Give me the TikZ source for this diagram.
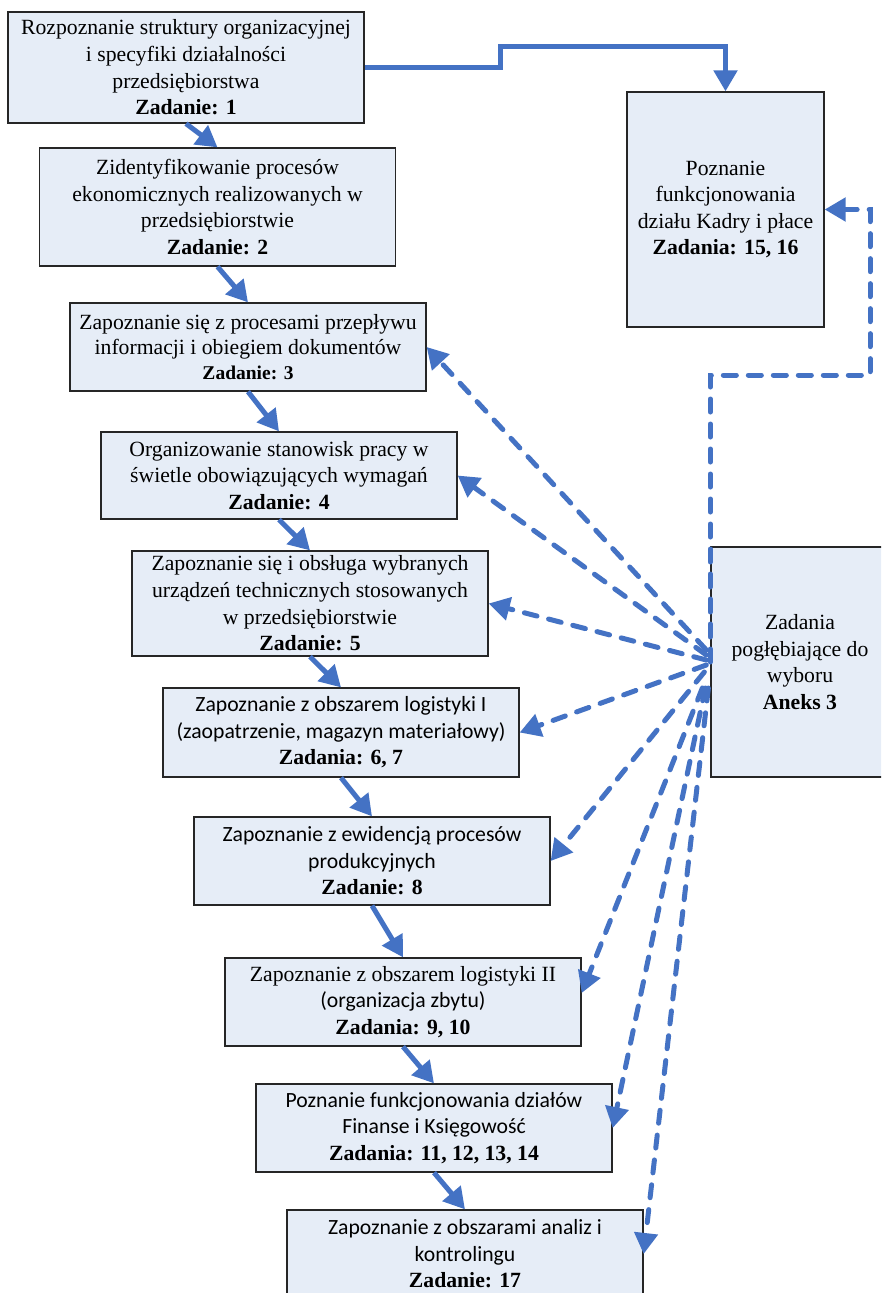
\documentclass[tikz,border=0pt]{standalone}
\usepackage{fontspec}
\setmainfont{Liberation Serif}
\newfontfamily\sanscal{Carlito}
\usetikzlibrary{arrows.meta,calc}
\definecolor{boxfill}{RGB}{230,237,247}
\definecolor{ablue}{RGB}{68,114,196}
\tikzset{
  box/.style={draw=black!85, line width=1.3pt, fill=boxfill, align=center, inner sep=0pt,
    minimum width=356pt, font=\fontsize{21.7}{26.6}\selectfont},
  arr/.style={draw=ablue, line width=5pt, -{Triangle[length=21pt,width=23pt]}},
  darr/.style={draw=ablue, line width=5pt, line cap=round, dash pattern=on 13pt off 12pt,
    -{Triangle[length=21pt,width=23pt]}},
}
\begin{document}
\begin{tikzpicture}[x=1pt,y=-1pt]
\useasboundingbox (0,0) rectangle (881,1293);
\clip (0,0) rectangle (881,1293);
\fill[white] (0,0) rectangle (881,1293);
\node[box, minimum height=111pt] (b1) at (186,67.5) {Rozpoznanie struktury organizacyjnej\\ i specyfiki działalności\\ przedsiębiorstwa\\ \textbf{Zadanie: 1}};
\node[box, minimum height=118pt] (b2) at (217.5,207) {Zidentyfikowanie procesów\\ ekonomicznych realizowanych w\\ przedsiębiorstwie\\ \textbf{Zadanie: 2}};
\node[box, minimum height=88pt, font=\fontsize{21.7}{25}\selectfont] (b3) at (248,347) {Zapoznanie się z procesami przepływu\\ informacji i obiegiem dokumentów\\ {\fontsize{19.5}{25}\selectfont\textbf{Zadanie: 3}}};
\node[box, minimum height=87pt] (b4) at (279,475.5) {Organizowanie stanowisk pracy w\\ świetle obowiązujących wymagań\\ \textbf{Zadanie: 4}};
\node[box, minimum height=105pt] (b5) at (310,603.5) {Zapoznanie się i obsługa wybranych\\ urządzeń technicznych stosowanych\\ w przedsiębiorstwie\\ \textbf{Zadanie: 5}};
\node[box, minimum height=89pt] (b6) at (341,732.5) {{\sanscal Zapoznanie z obszarem logistyki I}\\ {\sanscal (zaopatrzenie, magazyn materiałowy)}\\ \textbf{Zadania: 6, 7}};
\node[box, minimum height=88pt] (b7) at (372,861) {{\sanscal Zapoznanie z ewidencją procesów}\\ {\sanscal produkcyjnych}\\ \textbf{Zadanie: 8}};
\node[box, minimum height=88pt] (b8) at (403,1002) {Zapoznanie z obszarem logistyki II\\ {\sanscal (organizacja zbytu)}\\ \textbf{Zadania: 9, 10}};
\node[box, minimum height=88pt] (b9) at (434,1128) {{\sanscal Poznanie funkcjonowania działów}\\ {\sanscal Finanse i Księgowość}\\ \textbf{Zadania: 11, 12, 13, 14}};
\node[box, minimum height=88pt] (b10) at (465,1254) {{\sanscal Zapoznanie z obszarami analiz i}\\ {\sanscal kontrolingu}\\ \textbf{Zadanie: 17}};
\node[box, minimum width=197pt, minimum height=235pt] (kadry) at (725.5,209.5) {Poznanie\\ funkcjonowania\\ działu Kadry i płace\\ \textbf{Zadania: 15, 16}};
\node[box, minimum width=178pt, minimum height=230pt] (aneks) at (800,662) {Zadania\\ pogłębiające do\\ wyboru\\ \textbf{Aneks 3}};
% solid chain
\draw[arr] (b1.south) -- (b2.north);
\draw[arr] (b2.south) -- (b3.north);
\draw[arr] (b3.south) -- (b4.north);
\draw[arr] (b4.south) -- (b5.north);
\draw[arr] (b5.south) -- (b6.north);
\draw[arr] (b6.south) -- (b7.north);
\draw[arr] (b7.south) -- (b8.north);
\draw[arr] (b8.south) -- (b9.north);
\draw[arr] (b9.south) -- (b10.north);
% solid connector to Kadry
\coordinate (j1) at (500,46);
\draw[arr] (b1.east) -| (j1) -| (kadry.north);
% dashed connector to Kadry
\coordinate (k1) at (870,375);
\draw[darr] (aneks.west) |- (k1) |- (kadry.east);
% dashed fan
\draw[darr] ($(aneks.west)+(-4,-12)$) -- (b3.east);
\draw[darr] ($(aneks.west)+(-4,-7)$) -- (b4.east);
\draw[darr] ($(aneks.west)+(-4,-2)$) -- (b5.east);
\draw[darr] ($(aneks.west)+(-4,3)$) -- (b6.east);
\draw[darr] ($(aneks.west)+(-6,10)$) -- (b7.east);
\draw[darr] ($(aneks.west)+(-8,26)$) -- ($(b8.east)+(0,-9)$);
\draw[darr] ($(aneks.west)+(-5,26)$) -- (b9.east);
\draw[darr] ($(aneks.west)+(-2,26)$) -- (b10.east);
\end{tikzpicture}
\end{document}
